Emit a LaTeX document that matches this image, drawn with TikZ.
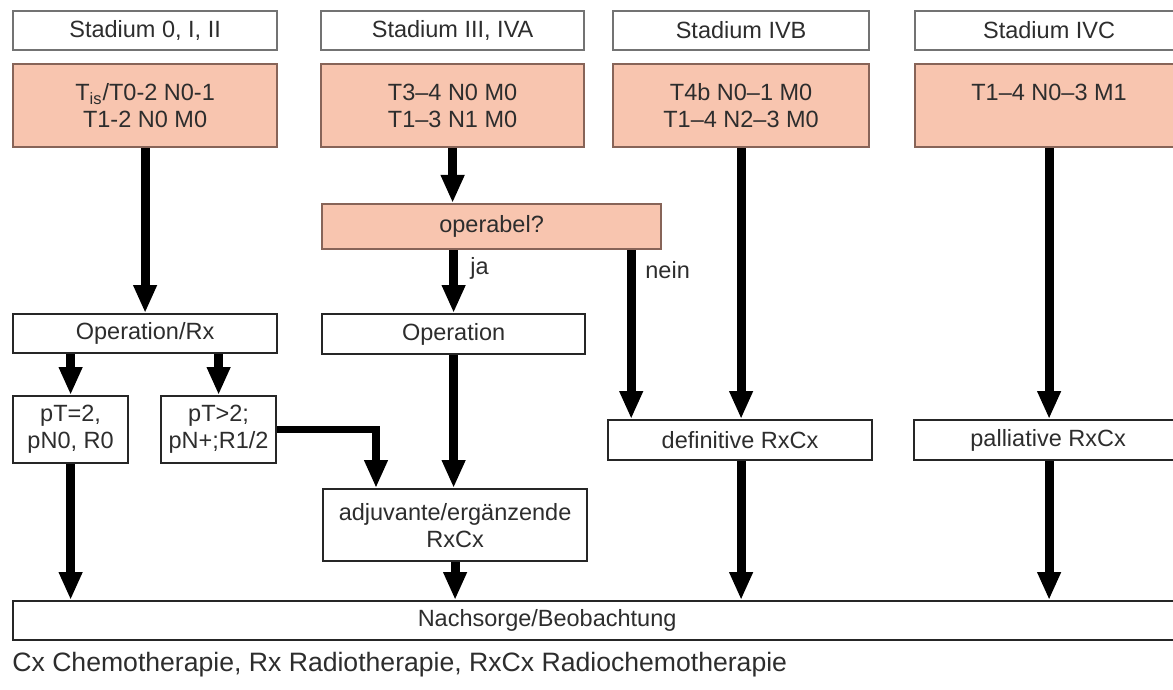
\documentclass[tikz,border=0pt]{standalone}
\usepackage{fontspec}
\setmainfont{Liberation Sans}
\usetikzlibrary{arrows.meta,calc}
\definecolor{salmon}{RGB}{248,197,175}
\definecolor{salmonedge}{RGB}{135,100,88}
\definecolor{txt}{RGB}{45,45,45}
\begin{document}
\begin{tikzpicture}[x=0.5pt,y=-0.5pt,
  box/.style={draw=black!85, line width=1.1pt, fill=white, anchor=north west, inner sep=0pt,
    align=center, text=txt, font=\fontsize{11.75}{13.5}\selectfont},
  headbox/.style={box, draw=black!55, minimum height=19.5pt},
  stagebox/.style={box, draw=salmonedge, fill=salmon, minimum height=41.5pt},
  conn/.style={line width=4.5pt, line join=miter, -{Triangle[width=11pt,length=14pt]}},
  lbl/.style={anchor=west, inner sep=0pt, text=txt, font=\fontsize{11.75}{13.5}\selectfont}]
\useasboundingbox (0,0) rectangle (1173,690);
\clip (0,0) rectangle (1173,690);
\fill[white] (0,0) rectangle (1173,690);

% headers
\node[headbox, minimum width=132pt] (h1) at (12,10) {Stadium 0, I, II};
\node[headbox, minimum width=131.5pt] (h2) at (320,10) {Stadium III, IVA};
\node[headbox, minimum width=128pt] (h3) at (612,10) {Stadium IVB};
\node[headbox, minimum width=134pt] (h4) at (914,10) {Stadium IVC};

% stage boxes
\node[stagebox, minimum width=132pt] (s1) at (12,63) {T\textsubscript{is}/T0-2 N0-1\\T1-2 N0 M0};
\node[stagebox, minimum width=131.5pt] (s2) at (320,63) {T3–4 N0 M0\\T1–3 N1 M0};
\node[stagebox, minimum width=128pt] (s3) at (612,63) {T4b N0–1 M0\\T1–4 N2–3 M0};
\node[stagebox, minimum width=134pt] (s4) at (914,63) {T1–4 N0–3 M1\\\mbox{}};

% middle boxes
\node[stagebox, minimum width=169.5pt, minimum height=22.5pt] (opq) at (321,203) {operabel?};
\node[box, minimum width=132pt, minimum height=19.5pt] (oprx) at (12,313) {Operation/Rx};
\node[box, minimum width=131.5pt, minimum height=20pt] (op) at (321,313) {Operation};
\node[box, minimum width=57.5pt, minimum height=33.5pt] (pt2) at (12,395) {pT=2,\\pN0, R0};
\node[box, minimum width=57.5pt, minimum height=33.5pt] (pt3) at (160,395) {pT>2;\\pN+;R1/2};
\node[box, minimum width=132pt, minimum height=20pt] (def) at (607,419) {definitive RxCx};
\node[box, minimum width=134pt, minimum height=20pt] (pal) at (913,419) {palliative RxCx};
\node[box, minimum width=132pt, minimum height=36pt] (adj) at (322,488) {adjuvante/ergänzende\\RxCx};
\node[box, minimum width=589pt, minimum height=19.5pt] (nach) at (12,600) {Nachsorge/Beobachtung\hspace*{55pt}};

% labels
\node[lbl] (ja) at (470,268) {ja};
\node[lbl] (nein) at (645,270) {nein};
\node[lbl, font=\fontsize{13.3}{15}\selectfont] (foot) at (12,665) {Cx Chemotherapie, Rx Radiotherapie, RxCx Radiochemotherapie};

% connectors
\draw[conn] (s1.south) -- (oprx.north);
\draw[conn] (oprx.south -| pt2.north) -- (pt2.north);
\draw[conn] (oprx.south -| pt3.north) -- (pt3.north);
\draw[conn] (pt2.south) -- (pt2.south |- nach.north);
\draw[conn, line width=3.8pt] (pt3.east) -| ([xshift=27pt]adj.north west);
\draw[conn] (s2.south) -- (s2.south |- opq.north);
\draw[conn] (opq.south -| op.north) -- (op.north);
\draw[conn] ([xshift=-15.5pt]opq.south east) -- ([xshift=-15.5pt]opq.south east |- def.north);
\draw[conn] (op.south) -- (op.south |- adj.north);
\draw[conn] (adj.south) -- (nach.north -| adj.south);
\draw[conn] (s3.south) -- (s3.south |- def.north);
\draw[conn] (def.south -| s3.south) -- (s3.south |- nach.north);
\draw[conn] (s4.south) -- (s4.south |- pal.north);
\draw[conn] (pal.south -| s4.south) -- (s4.south |- nach.north);
\end{tikzpicture}
\end{document}
